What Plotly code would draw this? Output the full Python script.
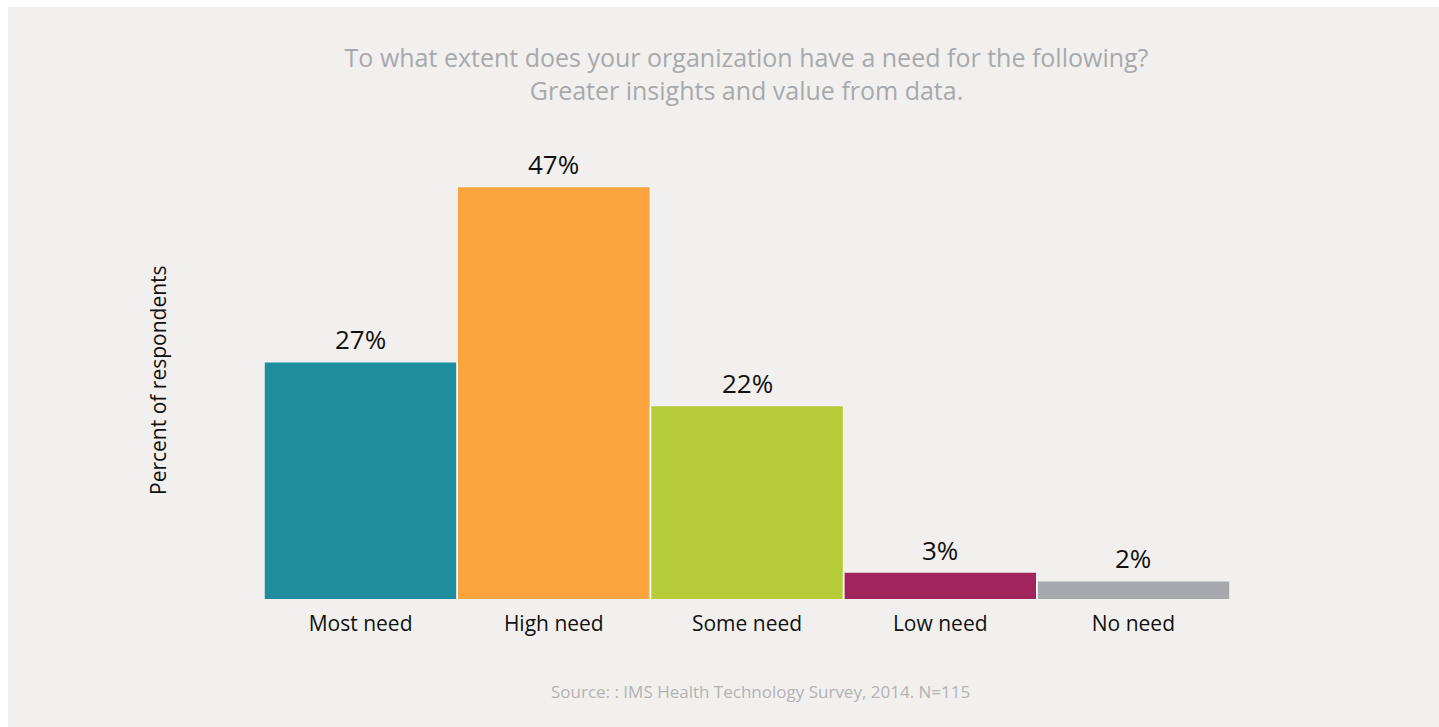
import plotly.graph_objects as go

# Survey responses (percent of respondents)
categories = ["Most need", "High need", "Some need", "Low need", "No need"]
percents = [27, 47, 22, 3, 2]
bar_colors = ["#1e8e9e", "#f9a43c", "#b5cb38", "#a2245c", "#a6a8ad"]

title_lines = [
    "To what extent does your organization have a need for the following?",
    "Greater insights and value from data.",
]
y_title = "Percent of respondents"
source_note = "Source: : IMS Health Technology Survey, 2014. N=115"

W, H = 1439, 727
ML, MR, MT, MB = 264, 209, 161, 128
PW, PH = W - ML - MR, H - MT - MB
PANEL = "#f1f0ee"
FONT = "Open Sans"


def paper_y(px):
    """Convert a pixel row (from the top of the figure) to paper y."""
    return (H - MB - px) / PH


def paper_x(px):
    """Convert a pixel column (from the left of the figure) to paper x."""
    return (px - ML) / PW


fig = go.Figure(
    go.Bar(
        x=categories,
        y=percents,
        marker=dict(color=bar_colors, line=dict(width=0)),
        hoverinfo="skip",
    )
)

shapes = [
    dict(
        type="rect", xref="paper", yref="paper",
        x0=paper_x(8), x1=paper_x(W) + 0.01,
        y0=paper_y(H) - 0.01, y1=paper_y(7),
        fillcolor=PANEL, line=dict(width=0), layer="below",
    )
]
# thin white separators between neighbouring bars, up to the shorter one
for i in range(len(percents) - 1):
    shapes.append(dict(
        type="line", xref="x", yref="y",
        x0=i + 0.5, x1=i + 0.5, y0=0, y1=min(percents[i], percents[i + 1]),
        line=dict(color="white", width=1.5), layer="above",
    ))

# value labels above each bar
annotations = [
    dict(
        x=cat, y=val, xref="x", yref="y",
        text=f"{val}%", showarrow=False,
        xanchor="center", yanchor="bottom", yshift=3,
        font=dict(family=FONT, size=26, color="#111111"),
    )
    for cat, val in zip(categories, percents)
]
annotations += [
    dict(
        text=y_title, textangle=-90,
        xref="paper", yref="paper", x=0, y=0.5,
        xshift=158 - ML, xanchor="center", yanchor="middle",
        showarrow=False,
        font=dict(family=FONT, size=21, color="#111111"),
    ),
    dict(
        text=source_note,
        xref="paper", yref="paper", x=paper_x(760), y=paper_y(691),
        xanchor="center", yanchor="middle",
        showarrow=False,
        font=dict(family=FONT, size=17, color="#b3b3b3"),
    ),
]

fig.update_layout(
    width=W, height=H,
    margin=dict(l=ML, r=MR, t=MT, b=MB, pad=0),
    paper_bgcolor="white",
    plot_bgcolor="rgba(0,0,0,0)",
    bargap=0.008,
    showlegend=False,
    font=dict(family=FONT, color="#111111"),
    title=dict(
        text="<br>".join(title_lines),
        x=746.5 / W, xanchor="center",
        y=1 - 67 / H, yanchor="top",
        font=dict(family=FONT, size=25, color="#a7a9ac"),
    ),
    xaxis=dict(
        range=[-0.5, len(categories) - 0.5],
        showgrid=False, zeroline=False, showline=False, ticks="",
        ticklabelstandoff=10,
        tickfont=dict(family=FONT, size=21, color="#111111"),
        fixedrange=True,
    ),
    yaxis=dict(
        range=[0, 50],
        showgrid=False, zeroline=False, showline=False,
        showticklabels=False, ticks="",
        fixedrange=True,
    ),
    shapes=shapes,
    annotations=annotations,
)

fig.write_html("out.html", config={"displayModeBar": False})
